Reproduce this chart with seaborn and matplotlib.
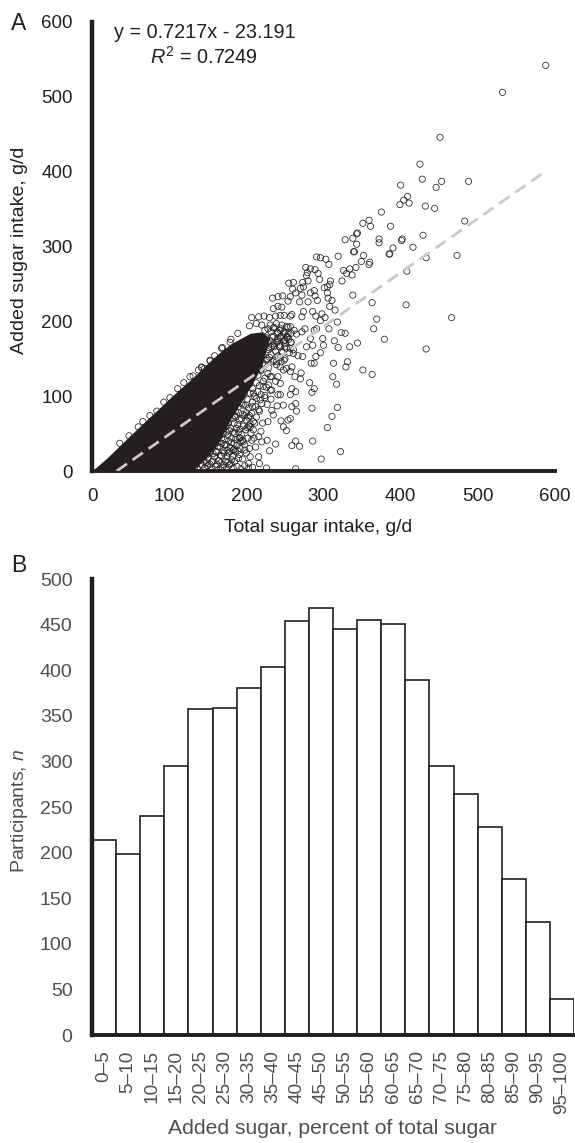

# Added vs total sugar intake (A) and distribution of added sugar share (B).
# A: the black core of the cloud cannot be read point by point, so its outline
# is kept as an envelope; rings are the points that can be picked out.

import matplotlib
matplotlib.use("Agg")
import matplotlib.pyplot as plt
import pandas as pd
import seaborn as sns

INK = "#231f20"
GREY_TEXT = "#4f4f50"

sparse_x = [588, 532, 451, 425, 428, 400, 453, 446, 488, 409, 404, 411, 399, 432, 444, 375, 483, 387, 359, 351,
            361, 343, 429, 338, 328, 343, 372, 372, 402, 401, 339, 390, 416, 386, 352, 319, 291, 296, 303, 473,
            433, 407, 466, 433, 408, 344, 340, 385, 349, 360, 359, 342, 334, 326, 330, 337, 324, 309, 308, 301,
            305, 307, 277, 283, 289, 293, 279, 278, 295, 280, 363, 369, 365, 379, 344, 334, 329, 323, 314, 319,
            318, 338, 351, 363, 313, 331, 328, 312, 317, 318, 311, 305, 286, 322, 297, 285]
sparse_y = [542, 506, 446, 410, 390, 382, 387, 379, 387, 367, 362, 358, 356, 354, 351, 346, 334, 327, 335, 331,
            327, 317, 315, 311, 309, 303, 310, 305, 310, 308, 293, 298, 299, 290, 288, 287, 286, 285, 283, 288,
            285, 222, 205, 163, 267, 318, 293, 290, 280, 279, 276, 272, 270, 268, 264, 262, 254, 254, 249, 245,
            246, 276, 272, 270, 269, 264, 265, 261, 256, 254, 225, 203, 190, 176, 171, 166, 139, 185, 174, 165,
            199, 235, 135, 129, 144, 146, 184, 126, 116, 85, 73, 58, 40, 26, 16, 84]

edge_x = [255, 261, 273, 260, 270, 274, 264, 272, 257, 283, 288, 289, 292, 305, 306, 311, 308, 315, 234, 241,
          247, 254, 241, 235, 246, 280, 269, 286, 274, 259, 272, 290, 298, 302, 296, 300, 299, 307, 291, 288,
          276, 265, 272, 283, 286, 278, 296, 290, 288, 284, 282, 288, 285, 264, 257, 259, 270, 263, 271, 273,
          267, 261, 257, 250, 241, 244, 240, 248, 259, 264, 265, 264, 259, 269, 238, 230, 227, 220, 254, 257,
          245, 248, 252, 235, 233, 228, 219, 221, 227, 232, 224, 218, 217, 203, 190, 181, 226, 264, 216, 198,
          207, 209, 196, 192, 183, 175, 192, 205, 212, 216, 211, 205, 200, 207, 216, 220, 213, 209, 222, 233,
          229, 244, 241, 248, 257, 252, 244, 259, 239, 231, 169, 180, 189, 204, 207, 216, 223, 230, 238, 244,
          249, 257, 213, 220, 231, 239, 246, 252, 257, 235, 224, 244, 254, 233, 241, 250, 244, 236, 229, 159,
          153, 142, 138, 146, 131, 36, 60, 66, 84, 101, 111, 127, 142, 153, 168, 179, 48, 75, 93, 119]
edge_y = [251, 252, 252, 243, 244, 246, 238, 235, 233, 238, 241, 234, 228, 238, 231, 228, 220, 215, 231, 233,
          234, 227, 220, 217, 219, 226, 226, 213, 213, 209, 206, 207, 210, 205, 201, 168, 177, 190, 190, 188,
          190, 183, 186, 177, 168, 166, 158, 153, 144, 144, 118, 110, 105, 106, 102, 110, 123, 126, 131, 153,
          154, 157, 164, 166, 102, 102, 87, 88, 86, 90, 80, 40, 34, 33, 36, 27, 41, 39, 68, 70,
          67, 59, 54, 75, 81, 66, 53, 64, 89, 96, 101, 95, 10, 10, 17, 15, 4, 3, 19, 28,
          41, 55, 39, 44, 28, 19, 30, 19, 32, 46, 64, 59, 68, 77, 82, 90, 97, 104, 113, 108,
          115, 117, 126, 135, 133, 137, 139, 139, 146, 126, 165, 176, 184, 194, 205, 206, 207, 205, 207, 208,
          208, 207, 197, 195, 195, 197, 195, 193, 193, 191, 188, 188, 183, 179, 177, 175, 168, 166, 165, 154,
          147, 139, 135, 137, 127, 37, 59, 66, 80, 98, 110, 126, 138, 148, 164, 172, 47, 74, 92, 118]

speckle_x = [128, 133, 137, 141, 146, 150, 155, 160, 164, 169, 174, 178, 183, 188, 193, 198, 203, 208,
             135, 140, 145, 150, 155, 159, 164, 168, 173, 177, 182, 186, 191, 195, 200, 204,
             142, 147, 152, 156, 161, 166, 170, 174, 179, 184, 188, 193, 198, 202, 206, 210,
             152, 158, 163, 168, 172, 176, 181, 185, 190, 194, 199, 203,
             165, 170, 175, 180, 184, 189, 194, 198, 203, 208, 196, 190, 185]
speckle_y = [3, 6, 2, 9, 4, 7, 3, 6, 2, 5, 3, 8, 4, 6, 3, 7, 4, 5,
             14, 18, 13, 17, 12, 19, 14, 20, 13, 24, 20, 26, 22, 16, 24, 30,
             26, 30, 24, 31, 26, 32, 27, 35, 31, 37, 34, 39, 35, 44, 50, 44,
             38, 42, 38, 44, 42, 48, 44, 50, 52, 49, 55, 60,
             52, 56, 60, 57, 64, 62, 70, 74, 72, 86, 88, 78, 74]

band_x = [131, 136, 143, 148, 153, 157, 162, 167, 171, 176, 180, 185,
          138, 143, 148, 152, 157, 161, 166, 171, 175, 179, 184, 189,
          146, 150, 155, 159, 163, 168, 172, 177, 181, 186, 191, 195,
          155, 160, 165, 170, 174, 178, 183, 187, 192, 196, 201, 205,
          165, 169, 173, 177, 182, 186, 191, 195, 200, 204, 209, 213,
          172, 177, 181, 186, 190, 194, 199, 203, 208, 212, 217,
          178, 183, 187, 192, 196, 201, 205, 210, 215, 219, 224,
          185, 190, 194, 199, 204, 208, 213, 217, 222, 226, 231,
          192, 197, 201, 206, 210, 215, 219, 224, 228, 233, 238,
          208, 212, 217, 221, 226, 230, 235, 239, 244, 249,
          218, 223, 227, 232, 236, 241, 246, 250, 255,
          240, 245, 249, 253, 258,
          228, 232, 236, 241, 245, 249, 254, 258, 262,
          226, 231, 235, 240, 244, 249, 253, 258,
          229, 234, 238, 243, 247, 252, 256, 261,
          222, 227, 232, 236, 241, 245, 250,
          214, 219, 224, 229]
band_y = [10, 12, 8, 11, 9, 13, 9, 11, 8, 12, 10, 13,
          22, 24, 21, 26, 23, 25, 21, 24, 28, 26, 29, 27,
          36, 34, 33, 36, 33, 37, 35, 40, 38, 42, 44, 41,
          46, 49, 47, 50, 52, 54, 52, 57, 56, 60, 58, 63,
          62, 66, 68, 65, 70, 72, 68, 76, 78, 74, 66, 72,
          78, 82, 84, 80, 86, 90, 88, 84, 92, 86, 80,
          94, 96, 92, 98, 100, 96, 104, 100, 106, 102, 98,
          110, 108, 114, 112, 116, 110, 118, 114, 120, 112, 108,
          128, 122, 130, 126, 132, 128, 134, 124, 130, 126, 120,
          146, 142, 150, 144, 148, 152, 146, 142, 152, 148,
          168, 164, 172, 166, 170, 174, 160, 170, 176,
          186, 180, 184, 178, 172,
          190, 186, 192, 184, 190, 186, 192, 184, 188,
          178, 174, 180, 172, 178, 174, 180, 172,
          162, 168, 160, 166, 158, 164, 158, 162,
          154, 150, 156, 148, 154, 146, 150,
          140, 136, 142, 138]

core_x = [0, 20, 50, 110, 130, 150, 165, 180, 205, 220, 230]
core_top = [0, 18, 48, 106, 124, 144, 158, 170, 184, 186, 178]
core_bottom = [0, 0, 0, 0, 0, 20, 40, 70, 112, 140, 178]

trend_x = [32, 587]
trend_y = [0, 400]

bins = ["0–5", "5–10", "10–15", "15–20", "20–25", "25–30", "30–35", "35–40", "40–45", "45–50",
        "50–55", "55–60", "60–65", "65–70", "70–75", "75–80", "80–85", "85–90", "90–95", "95–100"]
participants = [214, 198, 240, 295, 358, 359, 380, 404, 454, 468,
                445, 455, 451, 389, 295, 264, 228, 171, 124, 40]

sns.set_theme(style="white")
plt.rcParams["font.family"] = ["Liberation Sans", "DejaVu Sans"]
plt.rcParams["mathtext.fontset"] = "custom"
plt.rcParams["mathtext.rm"] = "Liberation Sans"
plt.rcParams["mathtext.it"] = "Liberation Sans:italic"

W, H = 575, 1143
fig = plt.figure(figsize=(W / 100, H / 100), dpi=100)


def axes_px(left, top, right, bottom):
    return fig.add_axes([left / W, 1 - bottom / H, (right - left) / W, (bottom - top) / H])


def label_px(x, y, text, **kw):
    fig.text(x / W, 1 - y / H, text, ha="center", va="center", **kw)


def style_axes(ax, color, size):
    sns.despine(ax=ax)
    ax.spines["left"].set_linewidth(3.2)
    ax.spines["bottom"].set_linewidth(2.8)
    ax.spines["left"].set_color(INK)
    ax.spines["bottom"].set_color(INK)
    ax.set_xlabel("")
    ax.set_ylabel("")
    ax.tick_params(length=0, labelsize=size, labelcolor=color)


# panel A
ax_a = axes_px(92, 22, 555, 471)
ax_a.fill_between(core_x, core_bottom, core_top, color=INK, linewidth=0, zorder=1)
for xs, ys in [(band_x, band_y), (speckle_x, speckle_y), (edge_x, edge_y), (sparse_x, sparse_y)]:
    sns.scatterplot(x=xs, y=ys, ax=ax_a, s=20, facecolor="none", edgecolor=INK, linewidth=0.55, zorder=2)
sns.lineplot(x=trend_x, y=trend_y, ax=ax_a, color="#c9c9c9", linewidth=2, linestyle=(0, (4.5, 2.5)), zorder=3)
ax_a.set_xlim(0, 600)
ax_a.set_ylim(0, 600)
ax_a.set_xticks(range(0, 601, 100))
ax_a.set_yticks(range(0, 601, 100))
style_axes(ax_a, INK, 13.5)
ax_a.tick_params(axis="y", pad=14)
ax_a.tick_params(axis="x", pad=12)

label_px(205, 33, "y = 0.7217x - 23.191", fontsize=14.3, color=INK)
label_px(204, 57, "$\\mathit{R}^{2}$ = 0.7249", fontsize=14.3, color=INK)
label_px(19, 24, "A", fontsize=16.5, color=INK)
label_px(318, 528, "Total sugar intake, g/d", fontsize=13.9, color=INK)
label_px(20, 250, "Added sugar intake, g/d", fontsize=14, color=INK, rotation=90)

# panel B
ax_b = axes_px(92, 579, 574, 1035)
table = pd.DataFrame({"bin": bins, "participants": participants})
sns.barplot(data=table, x="bin", y="participants", ax=ax_b, width=1, color="white",
            edgecolor=INK, linewidth=1.2, saturation=1)
ax_b.set_xlim(-0.5, 19.5)
ax_b.set_ylim(0, 500)
ax_b.set_yticks(range(0, 501, 50))
style_axes(ax_b, GREY_TEXT, 14)
ax_b.tick_params(axis="y", pad=14)
ax_b.tick_params(axis="x", pad=11, rotation=90, labelsize=13.7)

label_px(19, 565, "B", fontsize=16.5, color=INK)
label_px(332, 1129, "Added sugar, percent of total sugar", fontsize=15.2, color=GREY_TEXT)
label_px(20, 811, "Participants, $\\mathit{n}$", fontsize=14, color=GREY_TEXT, rotation=90)

fig.savefig("out.png", dpi=100)
plt.close(fig)
